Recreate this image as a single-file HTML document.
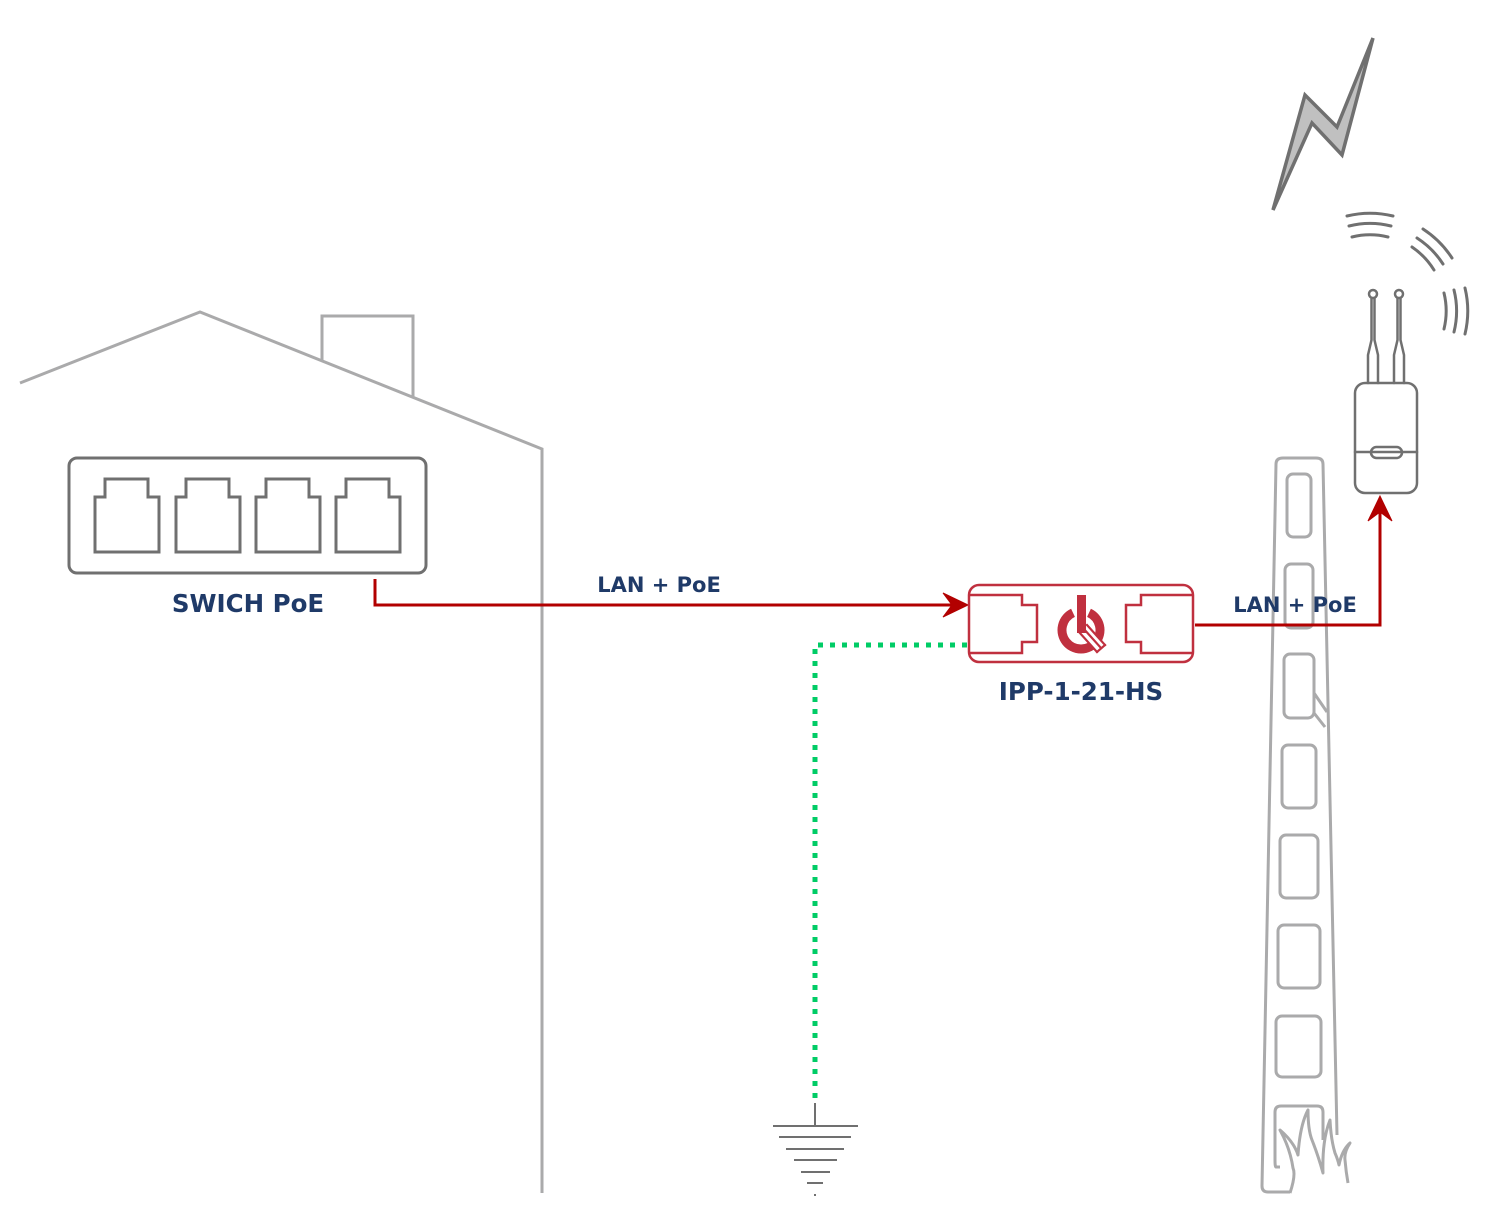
<!DOCTYPE html>
<html>
<head>
<meta charset="utf-8">
<style>
  html, body { margin:0; padding:0; background:#ffffff; }
  body { width:1494px; height:1216px; overflow:hidden; }
  svg { display:block; }
  text { font-family: "DejaVu Sans", "Liberation Sans", sans-serif; font-weight:bold; fill:#1f3a68; }
</style>
</head>
<body>
<svg width="1494" height="1216" viewBox="0 0 1494 1216" xmlns="http://www.w3.org/2000/svg">
  <!-- House -->
  <g fill="none" stroke="#aaaaab" stroke-width="3" stroke-linejoin="miter">
    <polyline points="20,383 200,312 542,449 542,1193"/>
    <polyline points="322,361 322,316 413,316 413,397"/>
  </g>

  <!-- Switch -->
  <g fill="none" stroke="#707070" stroke-width="3">
    <rect x="69" y="458" width="357" height="115" rx="8" ry="8"/>
    <path d="M95,552 V497 H105 V479 H148 V497 H159 V552 Z"/>
    <path d="M176,552 V497 H186 V479 H229 V497 H240 V552 Z"/>
    <path d="M256,552 V497 H266 V479 H309 V497 H320 V552 Z"/>
    <path d="M336,552 V497 H346 V479 H389 V497 H400 V552 Z"/>
  </g>
  <text x="248" y="612" font-size="24.5" text-anchor="middle">SWICH PoE</text>

  <!-- Connector 1 -->
  <polyline points="375,579 375,605 953,605" fill="none" stroke="#b20000" stroke-width="3"/>
  <polygon points="968,605 943,593 952,605 943,617" fill="#b20000" stroke="#b20000" stroke-width="1"/>
  <text x="659" y="592" font-size="21" text-anchor="middle">LAN + PoE</text>

  <!-- Green ground line -->
  <polyline points="967,645 815,645 815,1100" fill="none" stroke="#00cc66" stroke-width="5" stroke-dasharray="5 7"/>

  <!-- Ground symbol -->
  <g stroke="#707070" stroke-width="2" fill="none">
    <line x1="815" y1="1103" x2="815" y2="1126"/>
    <line x1="773" y1="1126" x2="858" y2="1126"/>
    <line x1="779" y1="1137" x2="851" y2="1137"/>
    <line x1="786" y1="1149" x2="844" y2="1149"/>
    <line x1="794" y1="1160" x2="837" y2="1160"/>
    <line x1="801" y1="1172" x2="830" y2="1172"/>
    <line x1="807" y1="1183" x2="823" y2="1183"/>
  </g>
  <rect x="814" y="1194" width="2" height="2" fill="#707070"/>

  <!-- IPP device -->
  <g fill="none" stroke="#c0303f" stroke-width="2.5">
    <rect x="969" y="585" width="224" height="77" rx="10" ry="10"/>
    <path d="M969,595 H1022 V605 H1037 V642 H1022 V653 H969"/>
    <path d="M1193,595 H1141 V605 H1126 V642 H1141 V653 H1193"/>
  </g>
  <!-- logo -->
  <g>
    <path d="M1089,612.8 A19,19 0 1 1 1073,612.8" fill="none" stroke="#c0303f" stroke-width="9"/>
    <line x1="1084" y1="629" x2="1106" y2="654" stroke="#ffffff" stroke-width="11"/>
    <rect x="1077" y="595" width="9" height="38" fill="#c0303f"/>
    <g stroke="#c0303f" stroke-width="2.2" stroke-linecap="square">
      <line x1="1079" y1="632" x2="1097" y2="652"/>
      <line x1="1083" y1="628" x2="1101" y2="648"/>
      <line x1="1087" y1="625" x2="1105" y2="645"/>
      <line x1="1097" y1="652" x2="1105" y2="645"/>
    </g>
  </g>
  <text x="1081" y="700" font-size="24.5" text-anchor="middle">IPP-1-21-HS</text>

  <!-- Pole -->
  <g fill="none" stroke="#aaaaab" stroke-width="3" stroke-linejoin="round">
    <path d="M1262,1186 L1276,464 Q1276,458 1283,458 L1316,458 Q1323,458 1323,464 L1337,1135"/>
    <path d="M1262,1186 Q1262,1192 1268,1192 L1290,1192"/>
    <rect x="1287" y="474" width="24" height="63" rx="6"/>
    <rect x="1285" y="564" width="28" height="64" rx="6"/>
    <rect x="1284" y="654" width="30" height="64" rx="6"/>
    <rect x="1282" y="745" width="34" height="63" rx="6"/>
    <rect x="1280" y="835" width="38" height="63" rx="6"/>
    <rect x="1278" y="925" width="42" height="63" rx="6"/>
    <rect x="1276" y="1016" width="45" height="61" rx="6"/>
    <path d="M1280,1167 L1276,1167 Q1275,1167 1275,1160 L1275,1112 Q1275,1106 1281,1106 L1317,1106 Q1323,1106 1323,1112 L1323,1140"/>
    <path d="M1314,693 L1327,712"/>
    <path d="M1314,713 L1325,727"/>
    <!-- grass -->
    <path d="M1290,1193 Q1296,1175 1293,1168 Q1290,1148 1280,1130 Q1294,1142 1298,1155 Q1300,1125 1308,1110 Q1308,1130 1312,1140 Q1318,1155 1323,1173 Q1322,1140 1330,1120 Q1331,1140 1335,1153 Q1338,1160 1339,1165 Q1342,1150 1350,1143 Q1344,1152 1345,1160 Q1346,1172 1348,1183"/>
  </g>

  <!-- Connector 2 -->
  <polyline points="1195,625 1380,625 1380,511" fill="none" stroke="#b20000" stroke-width="3"/>
  <polygon points="1380,496 1368,521 1380,512 1392,521" fill="#b20000" stroke="#b20000" stroke-width="1"/>
  <text x="1295" y="612" font-size="21" text-anchor="middle">LAN + PoE</text>

  <!-- Access point -->
  <g fill="none" stroke="#707070" stroke-width="2.5" stroke-linecap="round">
    <rect x="1355" y="383" width="62" height="110" rx="10"/>
    <line x1="1355" y1="452" x2="1417" y2="452"/>
    <rect x="1371" y="447" width="31" height="11" rx="5.5"/>
    <circle cx="1373" cy="294" r="4"/>
    <circle cx="1399" cy="294" r="4"/>
    <path d="M1371.5,298 L1371.5,340 L1368,355 L1368,383"/>
    <path d="M1374.5,298 L1374.5,340 L1378,355 L1378,383"/>
    <path d="M1397.5,298 L1397.5,340 L1394,355 L1394,383"/>
    <path d="M1400.5,298 L1400.5,340 L1404,355 L1404,383"/>
  </g>
  <!-- Wifi arcs centered (1370,311) -->
  <g fill="none" stroke="#707070" stroke-width="3" stroke-linecap="round">
    <path d="M1347,216 A98,98 0 0 1 1393,216"/>
    <path d="M1349,226 A87,87 0 0 1 1391,226"/>
    <path d="M1352,237 A76,76 0 0 1 1388,237"/>

    <path d="M1423,229 A98,98 0 0 1 1452,258"/>
    <path d="M1417,238 A87,87 0 0 1 1443,264"/>
    <path d="M1412,247 A76,76 0 0 1 1434,270"/>

    <path d="M1465,288 A98,98 0 0 1 1465,334"/>
    <path d="M1454,290 A87,87 0 0 1 1454,332"/>
    <path d="M1444,293 A76,76 0 0 1 1444,329"/>
  </g>

  <!-- Lightning -->
  <polygon points="1373,38 1342,155 1312,123 1273,210 1305,95 1337,127" fill="#c0c0c0" stroke="#707070" stroke-width="3.5" stroke-linejoin="miter"/>
</svg>
</body>
</html>
